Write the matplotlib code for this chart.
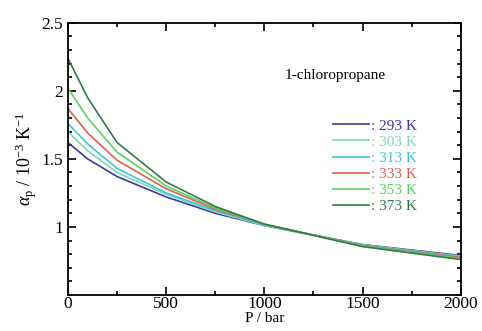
import numpy as np
import matplotlib
matplotlib.use("Agg")
import matplotlib.pyplot as plt
from matplotlib.ticker import MultipleLocator

plt.rcParams['font.family'] = ['Liberation Serif', 'DejaVu Serif']
plt.rcParams['mathtext.fontset'] = 'custom'
plt.rcParams['mathtext.rm'] = 'Liberation Serif'
plt.rcParams['mathtext.it'] = 'Liberation Serif:italic'

# pressure [bar]
P = [0, 100, 250, 500, 750, 1000, 1500, 2000]

# alpha_p [1e-3 K^-1] per temperature
a293 = [1.62, 1.50, 1.37, 1.22, 1.10, 1.01, 0.870, 0.790]
a303 = [1.70, 1.56, 1.40, 1.24, 1.11, 1.01, 0.868, 0.785]
a313 = [1.76, 1.61, 1.43, 1.25, 1.12, 1.015, 0.865, 0.780]
a333 = [1.87, 1.69, 1.49, 1.28, 1.13, 1.02, 0.862, 0.775]
a353 = [2.02, 1.80, 1.55, 1.30, 1.14, 1.02, 0.860, 0.768]
a373 = [2.24, 1.95, 1.62, 1.33, 1.15, 1.02, 0.855, 0.760]

series = [a293, a303, a313, a333, a353, a373]
labels = [": 293 K", ": 303 K", ": 313 K", ": 333 K", ": 353 K", ": 373 K"]
colors = ['#3a3aa0', '#80d4b8', '#40c4d8', '#e06050', '#60d060', '#2e7d4a']

fig = plt.figure(figsize=(4.82, 3.31), dpi=100)
ax = fig.add_axes([0.141, 0.109, 0.815, 0.822])

for y, lab, c in zip(series, labels, colors):
    ax.plot(P, y, color=c, linewidth=1.2, label=lab)

ax.set_xlim(0, 2000)
ax.set_ylim(0.5, 2.5)
ax.set_xticks([0, 500, 1000, 1500, 2000])
ax.set_yticks([1, 1.5, 2, 2.5])
ax.set_yticklabels(['1', '1.5', '2', '2.5'])
ax.xaxis.set_minor_locator(MultipleLocator(250))
ax.yaxis.set_minor_locator(MultipleLocator(0.1))
ax.tick_params(which='both', direction='in', top=True, right=True, labelsize=12.5, width=1.2)
ax.tick_params(axis='x', pad=1)
ax.tick_params(which='major', length=6)
ax.tick_params(which='minor', length=3)
for s in ax.spines.values():
    s.set_linewidth(1.3)

ax.set_xlabel('P / bar', fontsize=11, labelpad=0)
ax.set_ylabel(r'$\alpha_{\rm p}$ / 10$^{-3}$ K$^{-1}$', fontsize=13, labelpad=2)

ax.text(0.68, 0.805, '1-chloropropane', transform=ax.transAxes, fontsize=11,
        ha='center', va='center')

leg = ax.legend(loc='upper left', bbox_to_anchor=(0.655, 0.675), frameon=False,
                fontsize=11, handlelength=2.35, handletextpad=0.15,
                labelspacing=0.16, borderpad=0, labelcolor='linecolor')

plt.savefig('out.png', dpi=100)
